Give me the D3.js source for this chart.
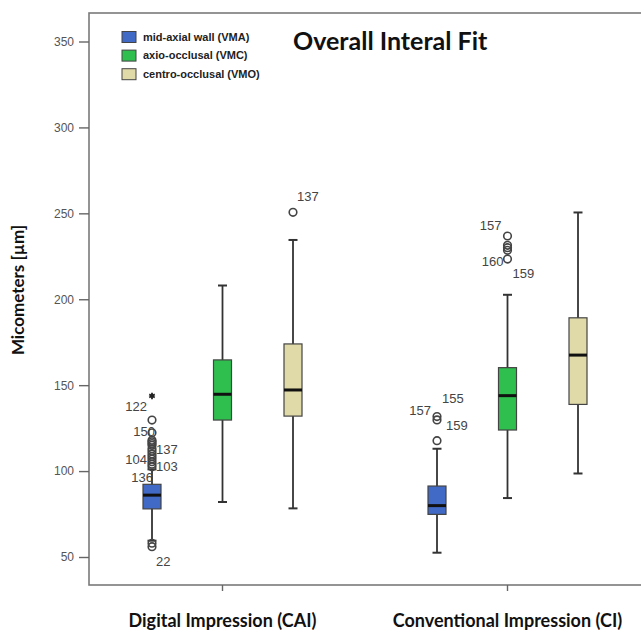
<!DOCTYPE html>
<html>
<head>
<meta charset="utf-8">
<script src="https://cdn.jsdelivr.net/npm/d3@7"></script>
<style>
  body { margin: 0; background: #fff; }
  svg { display: block; }
</style>
</head>
<body>
<div id="chart"></div>
<script>
// groups on the x axis, series inside each group
const groups = ["Digital Impression (CAI)", "Conventional Impression (CI)"];
const series = ["mid-axial wall (VMA)", "axio-occlusal (VMC)", "centro-occlusal (VMO)"];
const colors = ["#4169c6", "#2fbf4f", "#e0daa8"];
const yTicks = [50, 100, 150, 200, 250, 300, 350];

// box summaries [whiskerLow, q1, median, q3, whiskerHigh], one entry per series
const boxesCAI = [
  [59.5, 78, 86, 92.3, 101],
  [82, 129.7, 144.7, 164.7, 208],
  [78.3, 132, 147.2, 174, 234.5]
];
const boxesCI = [
  [52.5, 74.8, 79.9, 91.3, 113],
  [84.3, 123.9, 143.9, 160.2, 202.6],
  [98.6, 138.8, 167.5, 189.2, 250.5]
];

// outliers (circles) and extremes (asterisks)
const outliersCAI = [
  [56, 58, 102.5, 104, 105.5, 107, 108.5, 110, 111.5, 113, 115, 116, 117, 118, 122.3, 129.7],
  [],
  [250.6]
];
const outliersCI = [
  [117.7, 129.8, 131.7],
  [223.4, 228.5, 230, 231.4, 236.8],
  []
];
const extremesCAI = [[143.7], [], []];
const extremesCI = [[], [], []];

// case-number labels: [group, series, text, value where the label sits, side]
const caseLabels = [
  [0, 0, "122", 137.5, "left"],
  [0, 0, "150", 122.9, "left"],
  [0, 0, "137", 112.3, "right"],
  [0, 0, "104", 106.5, "left"],
  [0, 0, "103", 102.6, "right"],
  [0, 0, "136", 96.4, "left"],
  [0, 0, "22", 47.3, "right"],
  [0, 2, "137", 259.7, "right"],
  [1, 0, "157", 135.5, "left"],
  [1, 0, "155", 142, "right"],
  [1, 0, "159", 126.8, "right"],
  [1, 1, "157", 243.2, "left"],
  [1, 1, "160", 221.9, "left"],
  [1, 1, "159", 215.1, "right"]
];
// horizontal nudge of each label away from the box centre
const labelDx = [-5, 3, 4, -5, 4, 1, 4, 4, -6, 5, 9, -6, -4, 5];

const width = 641, height = 631;
const frame = {left: 89, top: 13, right: 660, bottom: 585};

const svg = d3.select("#chart").append("svg")
  .attr("width", width)
  .attr("height", height);

const y = d3.scaleLinear()
  .domain([50, 350])
  .range([557, 41.5]);

const x0 = d3.scaleBand()
  .domain(groups)
  .range([80, 650]);

const x1 = d3.scalePoint()
  .domain(series)
  .range([-70.5, 70.5]);

const boxW = 18;
const cxOf = (gi, si) => x0(groups[gi]) + x0.bandwidth() / 2 + x1(series[si]);

// frame
svg.append("rect")
  .attr("x", frame.left)
  .attr("y", frame.top)
  .attr("width", frame.right - frame.left)
  .attr("height", frame.bottom - frame.top)
  .attr("fill", "none")
  .attr("stroke", "#7a7a7a")
  .attr("stroke-width", 1.6);

// y axis
svg.append("g")
  .attr("transform", `translate(${frame.left},0)`)
  .call(d3.axisLeft(y).tickValues(yTicks).tickSize(10).tickPadding(5))
  .call(g => g.select(".domain").remove())
  .call(g => g.selectAll(".tick line").attr("stroke", "#666").attr("stroke-width", 1.4))
  .call(g => g.selectAll(".tick text")
    .attr("fill", "#555")
    .attr("font-size", 12)
    .attr("font-family", "'Liberation Sans', Arial, sans-serif"));

// x axis ticks
svg.append("g")
  .attr("transform", `translate(0,${frame.bottom})`)
  .call(d3.axisBottom(x0).tickSize(6).tickFormat(""))
  .call(g => g.select(".domain").remove())
  .call(g => g.selectAll(".tick line").attr("stroke", "#666").attr("stroke-width", 1.4));

svg.append("g")
  .selectAll("text")
  .data(groups)
  .enter().append("text")
  .attr("x", d => x0(d) + x0.bandwidth() / 2)
  .attr("y", 627)
  .attr("text-anchor", "middle")
  .attr("font-family", "Lato, 'Open Sans', sans-serif")
  .attr("font-weight", "bold")
  .attr("font-size", 18)
  .attr("fill", "#111")
  .text(d => d);

// y title
svg.append("text")
  .attr("transform", "translate(24,290) rotate(-90)")
  .attr("text-anchor", "middle")
  .attr("font-family", "Lato, 'Open Sans', sans-serif")
  .attr("font-weight", "bold")
  .attr("font-size", 17)
  .attr("fill", "#111")
  .text("Micometers [µm]");

// chart title
svg.append("text")
  .attr("x", 293)
  .attr("y", 50)
  .attr("font-family", "Lato, 'Open Sans', sans-serif")
  .attr("font-weight", "bold")
  .attr("font-size", 25)
  .attr("fill", "#111")
  .text("Overall Interal Fit");

// boxes
const boxData = [];
[boxesCAI, boxesCI].forEach((rows, gi) => {
  rows.forEach((b, si) => {
    boxData.push({cx: cxOf(gi, si), s: si, lo: b[0], q1: b[1], med: b[2], q3: b[3], hi: b[4]});
  });
});

const bx = svg.append("g").selectAll("g")
  .data(boxData)
  .enter().append("g");

bx.append("line")
  .attr("x1", d => d.cx).attr("x2", d => d.cx)
  .attr("y1", d => y(d.hi)).attr("y2", d => y(d.lo))
  .attr("stroke", "#333").attr("stroke-width", 1.8);

bx.selectAll(".cap")
  .data(d => [d.lo, d.hi].map(v => ({cx: d.cx, v: v})))
  .enter().append("line")
  .attr("x1", d => d.cx - 4.5).attr("x2", d => d.cx + 4.5)
  .attr("y1", d => y(d.v)).attr("y2", d => y(d.v))
  .attr("stroke", "#333").attr("stroke-width", 2);

bx.append("rect")
  .attr("x", d => d.cx - boxW / 2)
  .attr("y", d => y(d.q3))
  .attr("width", boxW)
  .attr("height", d => y(d.q1) - y(d.q3))
  .attr("fill", d => colors[d.s])
  .attr("stroke", "#444")
  .attr("stroke-width", 1.2);

bx.append("line")
  .attr("x1", d => d.cx - boxW / 2).attr("x2", d => d.cx + boxW / 2)
  .attr("y1", d => y(d.med)).attr("y2", d => y(d.med))
  .attr("stroke", "#111").attr("stroke-width", 3);

// outliers
const pts = [];
[outliersCAI, outliersCI].forEach((rows, gi) => {
  rows.forEach((vals, si) => {
    vals.forEach(v => pts.push({cx: cxOf(gi, si), v: v}));
  });
});
svg.append("g").selectAll("circle")
  .data(pts)
  .enter().append("circle")
  .attr("cx", d => d.cx)
  .attr("cy", d => y(d.v))
  .attr("r", 3.8)
  .attr("fill", "none")
  .attr("stroke", "#444")
  .attr("stroke-width", 1.6);

const ext = [];
[extremesCAI, extremesCI].forEach((rows, gi) => {
  rows.forEach((vals, si) => {
    vals.forEach(v => ext.push({cx: cxOf(gi, si), v: v}));
  });
});
svg.append("g").selectAll("path")
  .data(ext)
  .enter().append("path")
  .attr("transform", d => `translate(${d.cx},${y(d.v)})`)
  .attr("d", d3.symbol(d3.symbolAsterisk, 28))
  .attr("fill", "none")
  .attr("stroke", "#222")
  .attr("stroke-width", 1.8);

// case labels
svg.append("g").selectAll("text")
  .data(caseLabels)
  .enter().append("text")
  .attr("x", (d, i) => cxOf(d[0], d[1]) + labelDx[i])
  .attr("y", d => y(d[3]))
  .attr("dy", "0.35em")
  .attr("text-anchor", d => d[4] === "left" ? "end" : "start")
  .attr("font-family", "'Liberation Sans', Arial, sans-serif")
  .attr("font-size", 13)
  .attr("fill", "#444")
  .text(d => d[2]);

// legend
const lg = svg.append("g")
  .selectAll("g")
  .data(series)
  .enter().append("g")
  .attr("transform", (d, i) => `translate(122,${37 + i * 18.6})`);

lg.append("rect")
  .attr("x", 0).attr("y", -5.5)
  .attr("width", 14).attr("height", 11)
  .attr("fill", (d, i) => colors[i])
  .attr("stroke", "#444")
  .attr("stroke-width", 1);

lg.append("text")
  .attr("x", 21)
  .attr("dy", "0.35em")
  .attr("font-family", "'Liberation Sans Narrow', 'Liberation Sans', Arial, sans-serif")
  .attr("font-weight", "bold")
  .attr("font-size", 11)
  .attr("fill", "#222")
  .text(d => d);
</script>
</body>
</html>
